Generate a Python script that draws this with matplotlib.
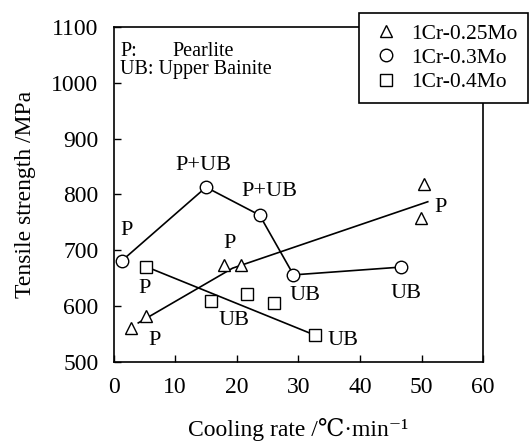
import matplotlib
matplotlib.use("Agg")
import matplotlib.pyplot as plt

plt.rcParams['font.family'] = ['Liberation Serif', 'DejaVu Serif', 'DejaVu Sans']

# 1Cr-0.25Mo (triangles) and its trend line
tri_x = [2.9, 5.2, 17.9, 20.6, 50.4, 49.9]
tri_y = [561, 583, 674, 674, 818, 758]
tri_line_x = [4.0, 19.3, 51.0]
tri_line_y = [570, 668, 787]

# 1Cr-0.3Mo (circles)
cir_x = [1.3, 15.0, 23.7, 29.2, 46.7]
cir_y = [681, 813, 763, 656, 670]

# 1Cr-0.4Mo (squares) and its trend line
sq_x = [5.2, 15.8, 21.7, 26.1, 32.7]
sq_y = [671, 610, 622, 606, 548]
sq_line_x = [5.2, 32.7]
sq_line_y = [671, 548]

# microstructure annotations: (text, x, y)
notes = [
    ("P", 2.1, 736), ("P+UB", 14.6, 852), ("P+UB", 25.3, 806),
    ("P", 18.9, 712), ("P", 5.0, 632), ("UB", 31.0, 619),
    ("UB", 19.6, 574), ("P", 6.6, 538), ("UB", 37.2, 538),
    ("UB", 47.4, 623), ("P", 53.1, 777),
]

x_ticks = [0, 10, 20, 30, 40, 50, 60]
y_ticks = [500, 600, 700, 800, 900, 1000, 1100]

fig = plt.figure(figsize=(5.31, 4.42), dpi=100)
ax = fig.add_axes([0.214, 0.181, 0.696, 0.758])

lw = 1.2
mk = dict(markerfacecolor='white', markeredgecolor='black', markeredgewidth=1.0,
          markersize=9, linestyle='none', zorder=3)

ax.plot(tri_line_x, tri_line_y, color='black', lw=lw, zorder=2)
ax.plot(cir_x, cir_y, color='black', lw=lw, zorder=2)
ax.plot(sq_line_x, sq_line_y, color='black', lw=lw, zorder=2)

h1, = ax.plot(tri_x, tri_y, marker='^', label='1Cr-0.25Mo', **mk)
h2, = ax.plot(cir_x, cir_y, marker='o', label='1Cr-0.3Mo', **mk)
h3, = ax.plot(sq_x, sq_y, marker='s', label='1Cr-0.4Mo', **mk)

for t, x, y in notes:
    ax.text(x, y, t, ha='center', va='center', fontsize=16, zorder=4)

ax.set_xlim(0, 60)
ax.set_ylim(500, 1100)
ax.set_xticks(x_ticks)
ax.set_yticks(y_ticks)
ax.tick_params(direction='in', length=5, width=1, labelsize=17, top=False, right=False)
ax.tick_params(axis='y', pad=11)
ax.tick_params(axis='x', pad=11)
for s in ax.spines.values():
    s.set_linewidth(1.2)

ax.set_ylabel('Tensile strength /MPa', fontsize=17, labelpad=11)
ax.set_xlabel('Cooling rate /℃·min⁻¹', fontsize=17, labelpad=14)

ax.text(0.018, 0.913, 'P:', transform=ax.transAxes, fontsize=14.5, va='baseline')
ax.text(0.158, 0.913, 'Pearlite', transform=ax.transAxes, fontsize=14.5, va='baseline')
ax.text(0.018, 0.860, 'UB: Upper Bainite', transform=ax.transAxes, fontsize=14.5, va='baseline')

leg = fig.legend(handles=[h1, h2, h3], loc='upper left',
                 bbox_to_anchor=(0.676, 0.971), fontsize=15.5, frameon=True,
                 fancybox=False, edgecolor='black', framealpha=1,
                 handlelength=1.5, handletextpad=0.43, labelspacing=0.2,
                 borderpad=0.5, borderaxespad=0)
leg.get_frame().set_linewidth(1.2)
leg.set_zorder(10)

fig.savefig('out.png', dpi=100)
